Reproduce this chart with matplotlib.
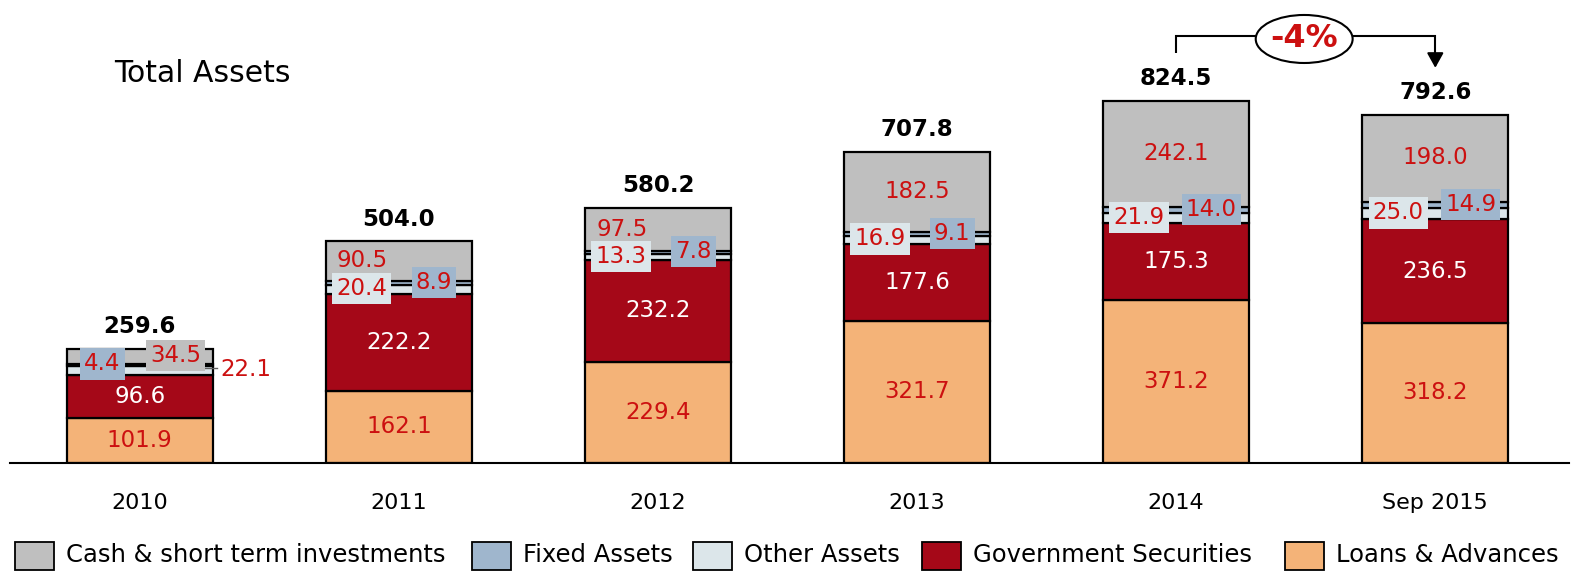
import matplotlib
matplotlib.use("Agg")
import matplotlib.pyplot as plt
from matplotlib.patches import Ellipse, Rectangle
import numpy as np

# ---- data ----
categories = ["2010", "2011", "2012", "2013", "2014", "Sep 2015"]
loans = [101.9, 162.1, 229.4, 321.7, 371.2, 318.2]
gov_sec = [96.6, 222.2, 232.2, 177.6, 175.3, 236.5]
other_assets = [22.1, 20.4, 13.3, 16.9, 21.9, 25.0]
fixed_assets = [4.4, 8.9, 7.8, 9.1, 14.0, 14.9]
cash = [34.5, 90.5, 97.5, 182.5, 242.1, 198.0]
totals = [259.6, 504.0, 580.2, 707.8, 824.5, 792.6]
series_names = ["Cash & short term investments", "Fixed Assets", "Other Assets",
                "Government Securities", "Loans & Advances"]
change_label = "-4%"
title = "Total Assets"

# ---- styles ----
C_CASH = "#BFBFBF"
C_FIXED = "#9FB6CD"
C_OTHER = "#DCE6EA"
C_GOV = "#A50818"
C_LOAN = "#F4B378"
RED = "#CC1010"
colors = [C_CASH, C_FIXED, C_OTHER, C_GOV, C_LOAN]

plt.rcParams['font.family'] = ['DejaVu Sans']

W, H = 1577, 575
fig = plt.figure(figsize=(W / 100, H / 100), dpi=100)
ax = fig.add_axes([10 / W, (H - 462.5) / H, 1559 / W, 462.5 / H])

x = np.arange(len(categories))
bw = 0.5635
lw = 1.6
loans_a = np.array(loans)
gov_a = np.array(gov_sec)
oth_a = np.array(other_assets)
fix_a = np.array(fixed_assets)
cash_a = np.array(cash)

b0 = np.zeros(len(x))
b1 = loans_a
b2 = b1 + gov_a
b3 = b2 + oth_a
b4 = b3 + fix_a

ax.bar(x, loans_a, bw, bottom=b0, color=C_LOAN, edgecolor="black", linewidth=lw, zorder=2)
ax.bar(x, gov_a, bw, bottom=b1, color=C_GOV, edgecolor="black", linewidth=lw, zorder=2)
ax.bar(x, oth_a, bw, bottom=b2, color=C_OTHER, edgecolor="black", linewidth=lw, zorder=2)
ax.bar(x, fix_a, bw, bottom=b3, color=C_FIXED, edgecolor="black", linewidth=lw, zorder=2)
ax.bar(x, cash_a, bw, bottom=b4, color=C_CASH, edgecolor="black", linewidth=lw, zorder=2)

ax.set_xlim(-0.5006, 5.516)
ax.set_ylim(0, 1054.7)
for s in ["top", "left", "right"]:
    ax.spines[s].set_visible(False)
ax.spines["bottom"].set_linewidth(1.5)
ax.set_xticks([])
ax.set_yticks([])

FS = 16.5
box_pad = 0.18

def boxed(xx, yy, txt, bg, ha="center"):
    ax.text(xx, yy, txt, ha=ha, va="center", color=RED, fontsize=FS, zorder=5,
            bbox=dict(boxstyle=f"square,pad={box_pad}", facecolor=bg, edgecolor="none"))

for i in range(len(x)):
    ax.text(x[i], b1[i] / 2, f"{loans[i]:.1f}", ha="center", va="center", color=RED, fontsize=FS, zorder=5)
    ax.text(x[i], b1[i] + gov_a[i] / 2, f"{gov_sec[i]:.1f}", ha="center", va="center", color="white", fontsize=FS, zorder=5)
    oth_c = b2[i] + oth_a[i] / 2 + 2
    fix_c = b3[i] + fix_a[i] / 2 + 2
    cash_c = b4[i] + cash_a[i] / 2 + 1
    if i == 0:
        boxed(x[i] - 0.144, fix_c, f"{fixed_assets[i]:.1f}", C_FIXED)
        boxed(x[i] + 0.138, cash_c, f"{cash[i]:.1f}", C_CASH)
        ax.plot([x[i] + 0.252, x[i] + 0.298], [oth_c + 3, oth_c + 3], color="#606060", lw=1.0, zorder=4)
        ax.text(x[i] + 0.31, oth_c, f"{other_assets[i]:.1f}", ha="left", va="center", color=RED, fontsize=FS, zorder=5)
    else:
        boxed(x[i] - 0.143, oth_c, f"{other_assets[i]:.1f}", C_OTHER)
        boxed(x[i] + 0.136, fix_c, f"{fixed_assets[i]:.1f}", C_FIXED)
        dx = -0.14 if i in (1, 2) else 0.0
        ax.text(x[i] + dx, cash_c, f"{cash[i]:.1f}", ha="center", va="center", color=RED, fontsize=FS, zorder=5)
    ax.annotate(f"{totals[i]:.1f}", xy=(x[i], totals[i]), xytext=(0, 16), textcoords="offset points",
                ha="center", va="center", fontsize=16.5, fontweight="bold", color="black", zorder=5)
    ax.annotate(categories[i], xy=(x[i], 0), xycoords=("data", "axes fraction"), xytext=(0, -29.5),
                textcoords="offset points", ha="center", va="center", fontsize=16, color="black")

# change bracket
y_lo, y_hi, y_tip = 933, 972.6, 900
ax.plot([x[4], x[4], x[5], x[5]], [y_lo, y_hi, y_hi, y_tip + 30], color="black", lw=1.5,
        clip_on=False, zorder=3, solid_capstyle="butt", solid_joinstyle="miter")
ax.annotate("", xy=(x[5], y_tip), xytext=(x[5], y_tip + 32),
            arrowprops=dict(arrowstyle="-|>,head_length=0.9,head_width=0.5", color="black", lw=1.5,
                            shrinkA=0, shrinkB=0), annotation_clip=False)
ell = Ellipse((4.494, 965.8), 0.374, 109.5, facecolor="white", edgecolor="black", lw=1.5,
              zorder=4, clip_on=False)
ax.add_patch(ell)
ax.text(4.494, 965.8, change_label, ha="center", va="center", color=RED, fontsize=23,
        fontweight="bold", zorder=5)

# title
fig.text(114 / W, 1 - 73.5 / H, title, ha="left", va="center", fontsize=21.5, color="black")

# legend (manual)
handle_x = [15, 472, 693, 922, 1285]
ly = 555.5
for hx, name, col in zip(handle_x, series_names, colors):
    fig.patches.append(Rectangle((hx / W, 1 - (ly + 14) / H), 39 / W, 28 / H, transform=fig.transFigure,
                                 facecolor=col, edgecolor="black", linewidth=1.3))
    fig.text((hx + 51) / W, 1 - ly / H, name, ha="left", va="center", fontsize=17.5, color="black")

fig.savefig("out.png", dpi=100)
